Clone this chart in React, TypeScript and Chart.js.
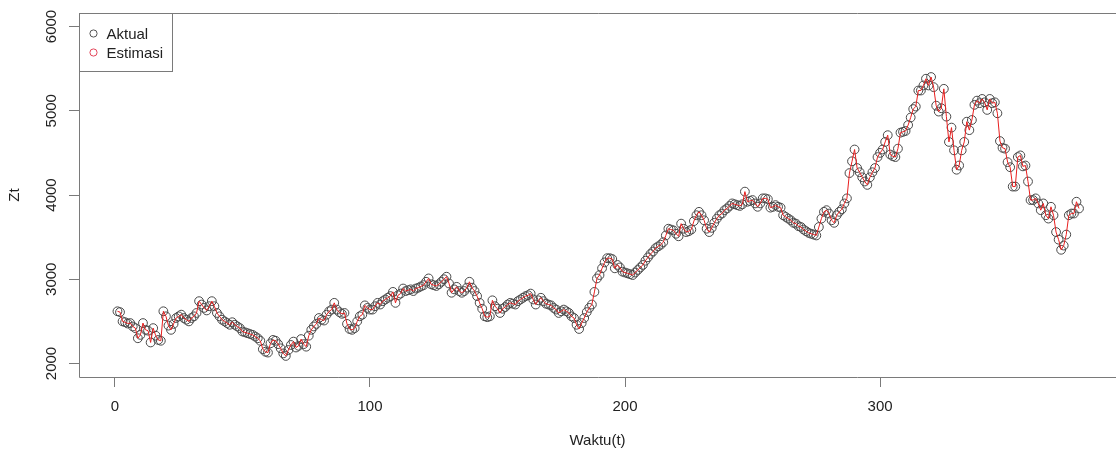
import React, { useEffect, useRef } from "react";
import { Chart, registerables } from "chart.js";

Chart.register(...registerables);

// Observed series Zt, t = 1..378
const aktual: number[] = [
  2620, 2610, 2500, 2490, 2475, 2480, 2440, 2420, 2300, 2340,
  2480, 2400, 2390, 2250, 2420, 2330, 2280, 2270, 2620, 2560,
  2450, 2400, 2470, 2540, 2560, 2580, 2540, 2520, 2500, 2540,
  2560, 2600, 2740, 2700, 2660, 2630, 2680, 2740, 2680, 2600,
  2560, 2520, 2500, 2480, 2460, 2490, 2460, 2440, 2420, 2380,
  2370, 2360, 2350, 2340, 2320, 2300, 2270, 2170, 2140, 2130,
  2240, 2280, 2270, 2230, 2180, 2120, 2090, 2160, 2220, 2260,
  2190, 2210, 2290, 2230, 2200, 2330, 2400, 2440, 2470, 2540,
  2520, 2510, 2580, 2620, 2640, 2720, 2640, 2610, 2590, 2600,
  2470, 2410, 2400, 2420, 2500, 2560, 2580, 2690, 2660, 2640,
  2640, 2680, 2720, 2700, 2740, 2760, 2780, 2800, 2850, 2720,
  2810, 2830, 2890, 2860, 2870, 2880, 2860, 2890, 2900, 2915,
  2930, 2970, 3010, 2940, 2930, 2920, 2940, 2970, 3000, 3030,
  2950, 2840, 2880, 2910, 2860, 2840, 2860, 2900, 2970, 2900,
  2860, 2800, 2720, 2650, 2560, 2550, 2560, 2750, 2680, 2650,
  2600, 2650, 2670, 2700, 2720, 2710, 2700, 2740, 2760, 2780,
  2800, 2810, 2830, 2760, 2700, 2750, 2780, 2740, 2710, 2700,
  2690, 2660, 2640, 2600, 2620, 2640, 2620, 2600, 2560, 2540,
  2460, 2410, 2480, 2540, 2610, 2660, 2700, 2850, 3010, 3050,
  3130, 3200, 3250, 3250, 3240, 3130, 3170, 3140, 3090, 3080,
  3070, 3060, 3050, 3080, 3110, 3140, 3170, 3220, 3260, 3300,
  3330, 3370, 3390, 3410, 3440, 3520, 3600, 3590, 3580, 3540,
  3510, 3660, 3600, 3560, 3570, 3590, 3690, 3760, 3800, 3760,
  3700, 3600, 3560, 3610, 3670, 3720, 3760, 3780, 3820, 3840,
  3870, 3900, 3890, 3880, 3870, 3890, 4040, 3920, 3930, 3940,
  3900, 3860, 3900, 3960, 3960, 3950, 3850, 3860, 3880, 3860,
  3850, 3760, 3740, 3720, 3700, 3670, 3660, 3630, 3620, 3590,
  3570, 3550, 3540, 3530, 3520, 3620, 3720, 3800, 3820, 3780,
  3700, 3670, 3760, 3800, 3830, 3900, 3960, 4260, 4400, 4540,
  4320, 4270, 4210, 4160, 4120, 4210, 4270, 4320, 4450, 4500,
  4540, 4630, 4710, 4480, 4460, 4450, 4550, 4740, 4750, 4760,
  4830, 4920, 5020, 5050, 5240, 5240, 5300, 5380, 5300, 5400,
  5280, 5060, 4990, 5030, 5260, 4930, 4630, 4800, 4530, 4300,
  4350, 4530, 4630, 4870, 4770, 4890, 5070, 5120, 5090, 5140,
  5100, 5010, 5140, 5090, 5100, 4970, 4640, 4560, 4550, 4390,
  4330, 4100, 4100, 4450, 4470, 4340, 4350, 4160, 3940, 3940,
  3960, 3900, 3820, 3900, 3760, 3720, 3860, 3760, 3560, 3470,
  3350, 3400, 3530, 3760, 3780, 3780, 3920, 3840,
];

// Fitted (estimated) series; visually coincides with the observed points
const estimasi: number[] = aktual;

const seriesNames = ["Aktual", "Estimasi"];
const xTicks = [0, 100, 200, 300];
const yTicks = [2000, 3000, 4000, 5000, 6000];
const xTitle = "Waktu(t)";
const yTitle = "Zt";

const FONT = '"Liberation Sans", Arial, Helvetica, sans-serif';
const AXIS = "#7a7a7a";
const TEXT = "#222222";
const POINT = "#484848";
const RED = "rgb(232,30,30)";

export default function App() {
  const ref = useRef<HTMLCanvasElement>(null);

  useEffect(() => {
    const canvas = ref.current;
    if (!canvas) return;

    const framePlugin = {
      id: "rFrame",
      afterDraw(chart: any) {
        const { ctx, chartArea: a, scales } = chart;
        ctx.save();
        // box (its right edge falls outside the picture)
        ctx.strokeStyle = AXIS;
        ctx.lineWidth = 1;
        ctx.beginPath();
        const l = Math.round(a.left) + 0.5;
        const t = Math.round(a.top) + 0.5;
        const b = Math.round(a.bottom) + 0.5;
        ctx.moveTo(a.right + 2, t);
        ctx.lineTo(l, t);
        ctx.lineTo(l, b);
        ctx.lineTo(a.right + 2, b);
        ctx.stroke();

        // rotated y tick labels (R style, parallel to axis)
        ctx.fillStyle = TEXT;
        ctx.font = `15px ${FONT}`;
        ctx.textAlign = "center";
        ctx.textBaseline = "middle";
        for (const v of yTicks) {
          const y = scales.y.getPixelForValue(v);
          ctx.save();
          ctx.translate(52, y);
          ctx.rotate(-Math.PI / 2);
          ctx.fillText(String(v), 0, 0);
          ctx.restore();
        }

        // legend box at top-left of plot region
        const lx = l;
        const ly = t;
        const lw = 93;
        const lh = 58;
        ctx.fillStyle = "#ffffff";
        ctx.fillRect(lx, ly, lw, lh);
        ctx.strokeStyle = AXIS;
        ctx.strokeRect(lx, ly, lw, lh);
        const rows = [
          { name: seriesNames[0], color: "#555555", y: ly + 20 },
          { name: seriesNames[1], color: "rgb(228,70,90)", y: ly + 39 },
        ];
        for (const r of rows) {
          ctx.beginPath();
          ctx.strokeStyle = r.color;
          ctx.lineWidth = 1;
          ctx.arc(lx + 14, r.y, 3.6, 0, Math.PI * 2);
          ctx.stroke();
          ctx.fillStyle = TEXT;
          ctx.textAlign = "left";
          ctx.textBaseline = "middle";
          ctx.font = `15px ${FONT}`;
          ctx.fillText(r.name, lx + 27, r.y + 1);
        }
        ctx.restore();
      },
    };

    const tVals = aktual.map((_, i) => i + 1);

    const chart = new Chart(canvas, {
      type: "line",
      data: {
        datasets: [
          {
            label: seriesNames[1],
            data: estimasi.map((v, i) => ({ x: tVals[i], y: v })),
            borderColor: RED,
            borderWidth: 1,
            pointRadius: 0,
            fill: false,
            tension: 0,
            order: 0,
          },
          {
            label: seriesNames[0],
            data: aktual.map((v, i) => ({ x: tVals[i], y: v })),
            showLine: false,
            pointStyle: "circle",
            pointRadius: 4.4,
            pointBorderWidth: 1,
            pointBorderColor: POINT,
            pointBackgroundColor: "rgba(0,0,0,0)",
            order: 1,
          },
        ],
      },
      options: {
        responsive: false,
        animation: false,
        devicePixelRatio: 1,
        layout: { autoPadding: false, padding: { top: 13, right: 0, left: 0, bottom: 0 } },
        plugins: {
          legend: { display: false },
          tooltip: { enabled: false },
        },
        scales: {
          x: {
            type: "linear",
            min: -14.08,
            max: 392.5,
            afterBuildTicks: (s: any) => {
              s.ticks = xTicks.map((v) => ({ value: v }));
            },
            afterFit: (s: any) => {
              s.height = 80;
            },
            grid: {
              drawOnChartArea: false,
              drawTicks: true,
              tickLength: 10,
              color: AXIS,
              tickColor: AXIS,
            },
            border: { display: false },
            ticks: {
              color: TEXT,
              font: { family: FONT, size: 15 },
              padding: 11,
              maxRotation: 0,
              autoSkip: false,
              callback: (v: any) => String(v),
            },
            title: {
              display: true,
              text: xTitle,
              color: TEXT,
              font: { family: FONT, size: 15 },
              padding: { top: 0, bottom: 7 },
            },
          },
          y: {
            type: "linear",
            min: 1840,
            max: 6160,
            afterBuildTicks: (s: any) => {
              s.ticks = yTicks.map((v) => ({ value: v }));
            },
            afterFit: (s: any) => {
              s.width = 79;
            },
            grid: {
              drawOnChartArea: false,
              drawTicks: true,
              tickLength: 10,
              color: AXIS,
              tickColor: AXIS,
            },
            border: { display: false },
            ticks: {
              color: "rgba(0,0,0,0)",
              font: { family: FONT, size: 15 },
              autoSkip: false,
            },
            title: {
              display: true,
              text: yTitle,
              color: TEXT,
              font: { family: FONT, size: 15 },
              padding: { top: 6, bottom: 0 },
            },
          },
        },
      },
      plugins: [framePlugin],
    } as any);

    return () => chart.destroy();
  }, []);

  return (
    <div style={{ position: "absolute", left: 0, top: 0, width: 1116, height: 457, background: "#fff" }}>
      <canvas ref={ref} width={1116} height={457} style={{ display: "block" }} />
    </div>
  );
}
